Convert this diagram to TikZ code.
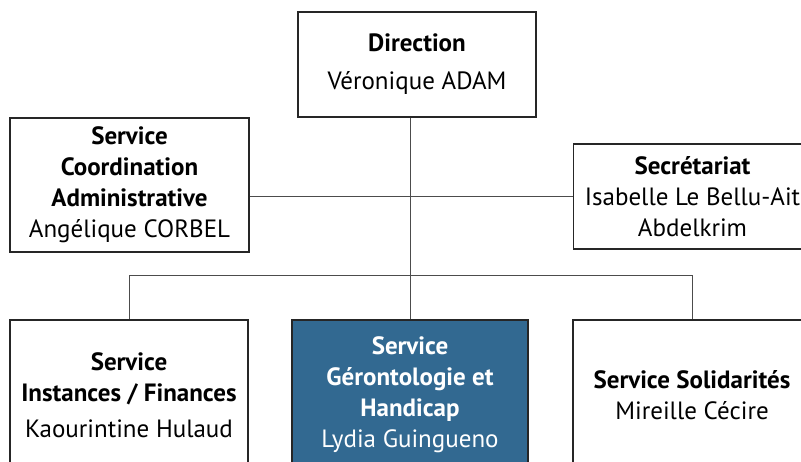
\documentclass[tikz,border=0pt]{standalone}
\usepackage{fontspec}
\setmainfont{PT Sans}
\usepackage{xcolor}
\definecolor{gerontoblue}{RGB}{50,105,145}

\tikzset{
  box/.style={draw=black!85, line width=1.2pt, fill=white, align=center,
    minimum width=238pt, inner sep=0pt, font=\fontsize{25}{31}\selectfont},
  link/.style={draw=black!70, line width=1pt}
}

\begin{document}
\begin{tikzpicture}[x=1pt,y=-1pt]
\useasboundingbox (0,0) rectangle (801,461);

% top of the chart
\node[box, minimum height=105pt] (dir) at (417,64.5)
  {\textbf{Direction}\\[7pt]Véronique ADAM};
\node[box, minimum width=239pt, minimum height=134pt] (coord) at (129.5,185)
  {\textbf{Service}\\\textbf{Coordination}\\\textbf{Administrative}\\Angélique CORBEL};
\node[box, minimum height=105pt] (secr) at (692.5,196.5)
  {\textbf{Secrétariat}\\Isabelle Le Bellu-Ait\\Abdelkrim};

% services
\node[box, minimum height=150pt] (inst) at (129,395)
  {\textbf{Service}\\\textbf{Instances / Finances}\\[5pt]Kaourintine Hulaud};
\node[box, minimum width=236pt, minimum height=150pt, fill=gerontoblue, text=white] (geron) at (410,395)
  {\textbf{Service}\\\textbf{Gérontologie et}\\\textbf{Handicap}\\Lydia Guingueno};
\node[box, minimum height=150pt] (soli) at (692,395)
  {\textbf{Service Solidarités}\\Mireille Cécire};

\coordinate (bar) at (0,275);

\draw[link] (dir.south -| geron.north) -- (geron.north);
\draw[link] (coord.east |- secr.west) -- (secr.west);
\draw[link] (inst.north) -- (inst.north |- bar) -- (soli.north |- bar) -- (soli.north);
\end{tikzpicture}
\end{document}
